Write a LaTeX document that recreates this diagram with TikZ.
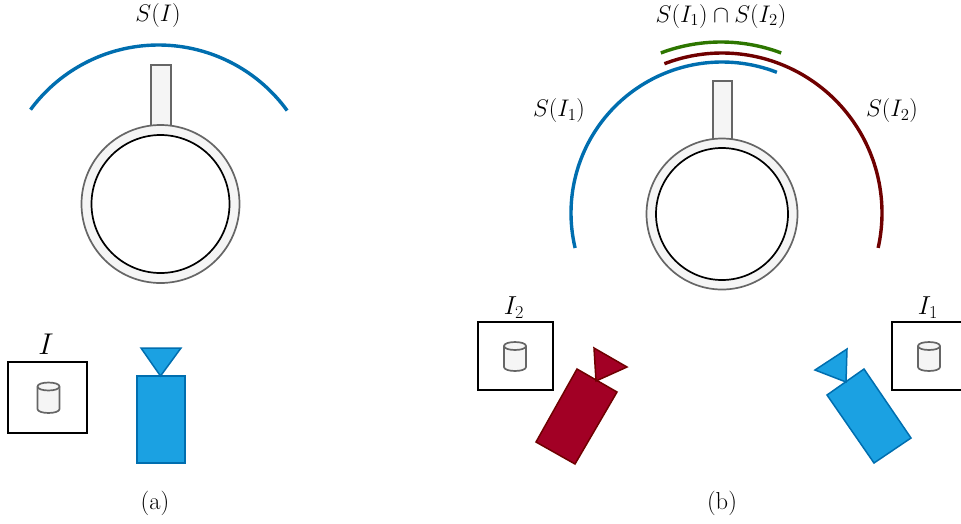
\RequirePackage{fix-cm}
\documentclass[tikz,border=0pt]{standalone}
\newcommand{\lblsize}{\fontsize{24}{28}\selectfont}
\newcommand{\capsize}{\fontsize{24.5}{28}\selectfont}
\definecolor{gbd}{HTML}{666666}
\definecolor{gfl}{HTML}{F5F5F5}
\definecolor{bbd}{HTML}{006EAF}
\definecolor{bfl}{HTML}{1BA1E2}
\definecolor{rbd}{HTML}{6F0000}
\definecolor{rfl}{HTML}{A20025}
\definecolor{gnl}{HTML}{2D7600}
\tikzset{
  px/.style={x=1pt,y=-1pt},
  gray part/.style={draw=gbd,fill=gfl,line width=1.7pt},
  ring/.style={draw=black,fill=white,line width=1.7pt},
  image frame/.style={draw=black,fill=white,line width=1.8pt},
  cam blue/.style={draw=bbd,fill=bfl,line width=1.5pt,line join=miter},
  cam red/.style={draw=rbd,fill=rfl,line width=1.5pt,line join=miter},
  view arc/.style={line width=3.4pt,line cap=butt},
  lbl/.style={inner sep=0pt,font=\lblsize},
  imglbl/.style={inner sep=0pt,font=\fontsize{26}{30}\selectfont},
  imglblbig/.style={inner sep=0pt,font=\fontsize{30}{34}\selectfont},
  caplbl/.style={inner sep=0pt,font=\capsize},
  cyl/.style={draw=gbd,fill=gfl,line width=1.7pt,line join=round},
}
\newcommand{\cylshape}[3]{% cx, top y, bottom y
  \draw[cyl] (#1-11,#2+4) -- (#1-11,#3-4) .. controls (#1-11,#3+1.3) and (#1+11,#3+1.3) .. (#1+11,#3-4) -- (#1+11,#2+4) .. controls (#1+11,#2-1.3) and (#1-11,#2-1.3) .. cycle;
  \draw[cyl] (#1-11,#2+4) .. controls (#1-11,#2+9.3) and (#1+11,#2+9.3) .. (#1+11,#2+4);
}
% cx, cy, radius, start, end, colour
\newcommand{\viewarc}[6]{%
  \draw[view arc,#6] plot[domain=#4:#5,samples=90,smooth] ({#1+#3*cos(\x)},{#2-#3*sin(\x)});
}
\begin{document}
\begin{tikzpicture}[px]
\useasboundingbox (0,0) rectangle (961,523);
% --- (a)
\draw[gray part] (151,65) rectangle (171,127);
\draw[gray part] (160.5,204) circle[radius=79];
\draw[ring] (160.5,204) circle[radius=69];
\viewarc{158.5}{204}{159}{143.6}{36.0}{bbd}
\node[lbl] (sa) at (158,15) {$S(I)$};
\draw[image frame] (8,362) rectangle (87,433);
\cylshape{48.5}{382.5}{413}
\node[imglblbig] (ia) at (46,344) {$I$};
\draw[cam blue] (137,376) rectangle (185,463);
\draw[cam blue] (141,348) -- (181,348) -- (160.5,376) -- cycle;
\node[caplbl] (ca) at (155,503) {(a)};
% --- (b)
\draw[gray part] (713,81) rectangle (732,140);
\draw[gray part] (722,214) circle[radius=75.5];
\draw[ring] (722,214) circle[radius=66];
\viewarc{722}{213}{151}{193.4}{68.7}{bbd}
\viewarc{722}{213}{160}{111.1}{-12.6}{rbd}
\viewarc{721}{213}{171}{110.6}{69.4}{gnl}
\node[lbl] (sb) at (721,16) {$S(I_1)\cap S(I_2)$};
\node[lbl] (sb1) at (559,110.5) {$S(I_1)$};
\node[lbl] (sb2) at (892,110.5) {$S(I_2)$};
\draw[image frame] (478,322) rectangle (553,390);
\cylshape{515}{342}{371}
\node[imglbl] (ib2) at (514,308) {$I_2$};
\draw[image frame] (961.5,322) -- (892,322) -- (892,390) -- (961.5,390);
\cylshape{929}{342}{371}
\node[imglbl] (ib1) at (928,308) {$I_1$};
\draw[cam red] (577,369) -- (617,392) -- (575,464) -- (536,442) -- cycle;
\draw[cam red] (594,348) -- (627,367) -- (596,381) -- cycle;
\draw[cam blue] (864,369) -- (911,438) -- (874,463) -- (827,395) -- cycle;
\draw[cam blue] (847,349) -- (815,370) -- (846,382) -- cycle;
\node[caplbl] (cb) at (722,503) {(b)};
\end{tikzpicture}
\end{document}
